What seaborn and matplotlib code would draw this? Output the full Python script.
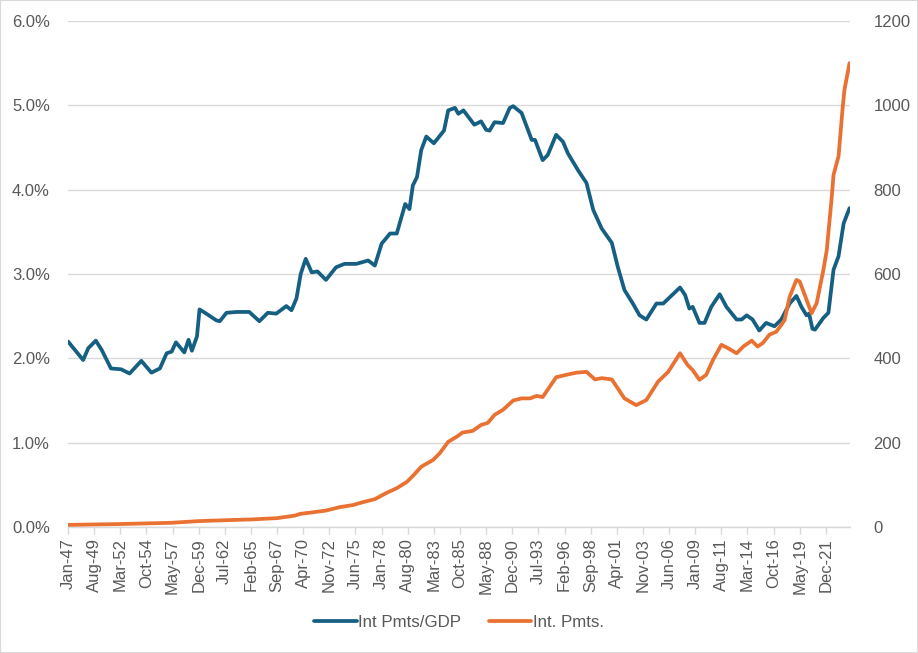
import pandas as pd
import matplotlib
matplotlib.use("Agg")
from matplotlib import pyplot as plt
from matplotlib.ticker import FuncFormatter
import seaborn as sns

# interest payments as share of GDP (left axis, %)
gdp_dates = [
    "1947-01", "1948-07", "1949-01", "1949-10", "1950-05", "1951-04", "1952-04", "1953-02",
    "1954-04", "1955-04", "1956-02", "1956-10", "1957-04", "1957-09", "1958-07", "1958-12",
    "1959-04", "1959-10", "1960-01", "1960-09", "1961-09", "1962-01", "1962-09", "1963-09",
    "1964-12", "1965-12", "1966-10", "1967-08", "1968-08", "1969-02", "1969-08", "1970-01",
    "1970-07", "1971-02", "1971-09", "1972-07", "1973-07", "1974-05", "1975-07", "1976-09",
    "1977-05", "1978-01", "1978-11", "1979-07", "1980-05", "1980-10", "1981-02", "1981-07",
    "1981-12", "1982-06", "1983-03", "1984-03", "1984-08", "1985-04", "1985-08", "1986-02",
    "1987-03", "1987-11", "1988-05", "1988-09", "1989-03", "1990-01", "1990-09", "1991-01",
    "1991-11", "1992-11", "1993-03", "1993-12", "1994-06", "1995-04", "1995-12", "1996-06",
    "1997-06", "1998-04", "1998-12", "1999-10", "2000-10", "2001-05", "2002-01", "2002-11",
    "2003-07", "2004-03", "2005-03", "2005-11", "2007-07", "2008-01", "2008-06", "2008-10",
    "2009-06", "2009-12", "2010-08", "2011-06", "2012-02", "2013-02", "2013-08", "2014-02",
    "2014-09", "2015-05", "2016-01", "2016-11", "2017-07", "2018-05", "2019-01", "2019-07",
    "2020-01", "2020-04", "2020-08", "2020-11", "2021-09", "2022-03", "2022-09", "2023-03",
    "2023-09", "2024-04",
]
gdp_share = [
    2.20, 1.98, 2.12, 2.21, 2.10, 1.88, 1.87, 1.82,
    1.97, 1.83, 1.88, 2.06, 2.08, 2.19, 2.07, 2.22,
    2.09, 2.26, 2.58, 2.53, 2.45, 2.44, 2.54, 2.55,
    2.55, 2.44, 2.54, 2.53, 2.62, 2.57, 2.71, 3.00,
    3.18, 3.02, 3.03, 2.93, 3.08, 3.12, 3.12, 3.16,
    3.10, 3.36, 3.48, 3.48, 3.83, 3.77, 4.05, 4.15,
    4.47, 4.63, 4.55, 4.70, 4.94, 4.97, 4.90, 4.94,
    4.77, 4.81, 4.71, 4.70, 4.80, 4.79, 4.97, 4.99,
    4.91, 4.59, 4.59, 4.35, 4.41, 4.65, 4.57, 4.43,
    4.23, 4.08, 3.76, 3.54, 3.37, 3.09, 2.81, 2.65,
    2.51, 2.46, 2.65, 2.65, 2.84, 2.75, 2.59, 2.61,
    2.42, 2.42, 2.61, 2.76, 2.61, 2.46, 2.46, 2.51,
    2.46, 2.33, 2.42, 2.38, 2.46, 2.65, 2.74, 2.61,
    2.51, 2.53, 2.35, 2.34, 2.48, 2.54, 3.05, 3.21,
    3.60, 3.78,
]

# interest payments (right axis, $bn)
pmt_dates = [
    "1947-01", "1952-02", "1957-04", "1959-12", "1962-07", "1965-03", "1967-09", "1969-06",
    "1969-12", "1970-12", "1972-07", "1973-11", "1975-03", "1976-03", "1977-05", "1978-07",
    "1979-07", "1980-07", "1981-03", "1981-12", "1983-02", "1983-10", "1984-08", "1985-06",
    "1986-01", "1987-01", "1987-11", "1988-07", "1989-03", "1990-01", "1991-01", "1991-11",
    "1992-09", "1993-05", "1993-12", "1995-04", "1996-04", "1997-04", "1998-04", "1999-02",
    "1999-10", "2000-10", "2002-01", "2003-03", "2004-03", "2005-05", "2006-05", "2007-07",
    "2008-04", "2008-10", "2009-06", "2010-02", "2010-10", "2011-08", "2012-04", "2013-02",
    "2013-10", "2014-08", "2015-03", "2015-09", "2016-05", "2017-01", "2017-07", "2017-11",
    "2018-05", "2019-01", "2019-05", "2020-01", "2020-07", "2021-01", "2021-09", "2022-01",
    "2022-07", "2022-09", "2023-03", "2023-08", "2023-10", "2024-04",
]
pmt_values = [
    5, 7, 10, 14, 16, 18, 21, 27,
    31, 34, 39, 47, 52, 59, 66, 81,
    92, 107, 123, 143, 159, 175, 202, 214,
    224, 228, 242, 247, 266, 278, 300, 305,
    305, 311, 308, 355, 361, 366, 368, 350,
    353, 350, 305, 289, 301, 345, 368, 412,
    384, 372, 349, 361, 396, 432, 424, 412,
    428, 442, 428, 436, 456, 463, 479, 491,
    546, 586, 582, 539, 507, 531, 610, 657,
    784, 835, 879, 997, 1037, 1100,
]

tick_dates = [
    "1947-01", "1949-08", "1952-03", "1954-10", "1957-05", "1959-12", "1962-07", "1965-02",
    "1967-09", "1970-04", "1972-11", "1975-06", "1978-01", "1980-08", "1983-03", "1985-10",
    "1988-05", "1990-12", "1993-07", "1996-02", "1998-09", "2001-04", "2003-11", "2006-06",
    "2009-01", "2011-08", "2014-03", "2016-10", "2019-05", "2021-12",
]

blue = "#156082"
orange = "#E97132"
grid_c = "#d9d9d9"
text_c = "#595959"

gdp = pd.DataFrame({"date": pd.to_datetime(gdp_dates), "share": gdp_share})
pmt = pd.DataFrame({"date": pd.to_datetime(pmt_dates), "value": pmt_values})

sns.set_style("white")
plt.rcParams["font.family"] = ["Liberation Sans", "DejaVu Sans"]

fig = plt.figure(figsize=(9.18, 6.53), dpi=100)
ax = fig.add_axes([68 / 918, 126 / 653, 782 / 918, 506 / 653])
ax2 = ax.twinx()

sns.lineplot(data=gdp, x="date", y="share", ax=ax, color=blue, linewidth=2.7,
             label="Int Pmts/GDP", legend=False)
sns.lineplot(data=pmt, x="date", y="value", ax=ax2, color=orange, linewidth=2.7,
             label="Int. Pmts.", legend=False)

ax.set_ylim(0, 6)
ax.set_yticks([0, 1, 2, 3, 4, 5, 6])
ax.yaxis.set_major_formatter(FuncFormatter(lambda v, p: f"{v:.1f}%"))
ax2.set_ylim(0, 1200)
ax2.set_yticks([0, 200, 400, 600, 800, 1000, 1200])

ax.set_xlim(pd.Timestamp("1947-01-01"), pd.Timestamp("2024-04-18"))
ticks = pd.to_datetime(tick_dates)
ax.set_xticks(ticks)
ax.set_xticklabels([t.strftime("%b-%y") for t in ticks], rotation=90)

ax.grid(axis="y", color=grid_c, linewidth=1)
ax.set_axisbelow(True)
for a in (ax, ax2):
    a.set_xlabel("")
    a.set_ylabel("")
    for s in a.spines.values():
        s.set_visible(False)
ax.spines["bottom"].set_visible(True)
ax.spines["bottom"].set_color(grid_c)
ax.spines["bottom"].set_linewidth(1)

ax.tick_params(axis="x", colors=text_c, labelsize=12, length=5, width=1,
               direction="out", pad=3, color=grid_c, bottom=True)
ax.tick_params(axis="y", colors=text_c, labelsize=12, length=0, pad=13)
ax2.tick_params(axis="y", colors=text_c, labelsize=12, length=0, pad=17)

h1, l1 = ax.get_legend_handles_labels()
h2, l2 = ax2.get_legend_handles_labels()
fig.legend(h1 + h2, l1 + l2, loc="center", bbox_to_anchor=(0.5, 0.047), ncol=2,
           frameon=False, fontsize=12.2, handlelength=2.5, handletextpad=0.1,
           columnspacing=1.6, labelcolor=text_c)

fig.patches.append(plt.Rectangle((0, 0), 1, 1, transform=fig.transFigure,
                                 fill=False, edgecolor="#d9d9d9", linewidth=1.5))

fig.savefig("out.png", dpi=100, facecolor="white")
